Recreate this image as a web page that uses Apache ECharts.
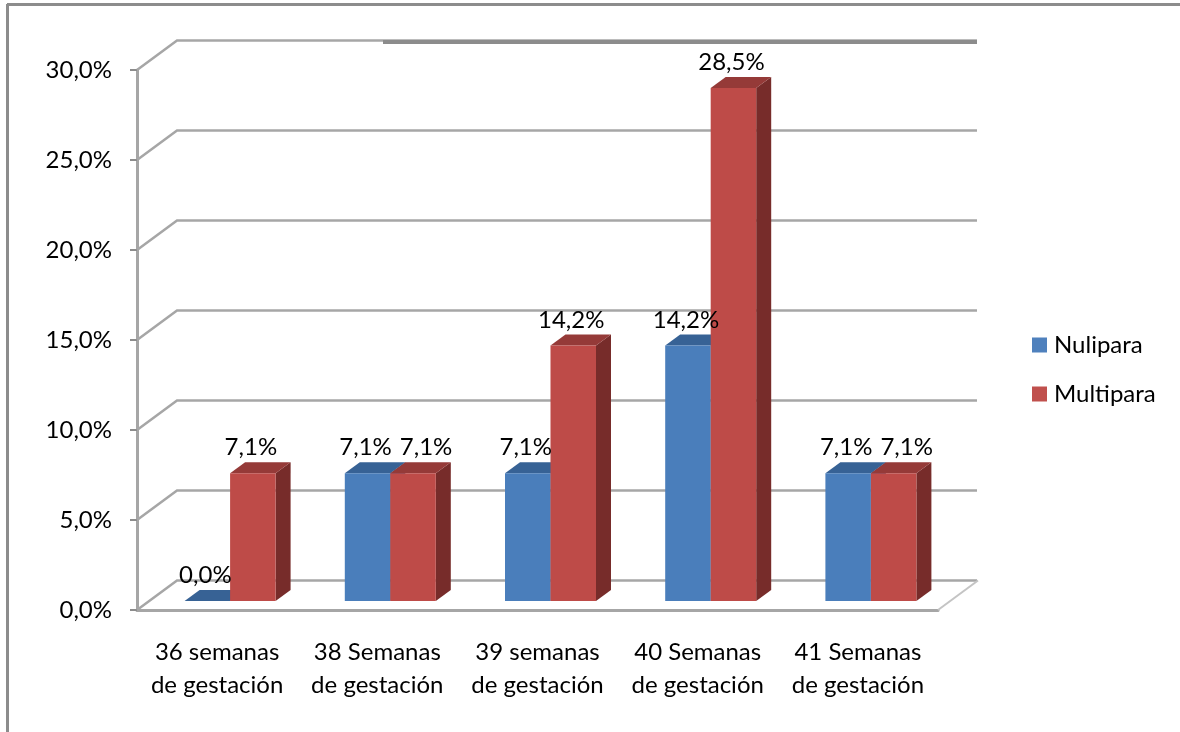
<!DOCTYPE html>
<html>
<head>
<meta charset="utf-8">
<title>Semanas de gestación</title>
<script src="https://cdn.jsdelivr.net/npm/echarts@6/dist/echarts.min.js"></script>
<style>
html, body { margin: 0; padding: 0; background: #fff; }
#main { width: 1180px; height: 732px; }
</style>
</head>
<body>
<div id="main"></div>
<script>
var categories = ['36 semanas\nde gestación', '38 Semanas\nde gestación', '39 semanas\nde gestación', '40 Semanas\nde gestación', '41 Semanas\nde gestación'];
var nulipara = [0.0, 7.1, 7.1, 14.2, 7.1];
var multipara = [7.1, 7.1, 14.2, 28.5, 7.1];
var yTicks = [0, 5, 10, 15, 20, 25, 30];

var FONT = 'Lato';
var FONT_SIZE = 24;
var GRID_COLOR = '#a6a6a6';
var AXIS_COLOR = '#8c8c8c';
// 3d look: wall offset, bar offset from the front axis, bar depth
var WALL_DX = 40, WALL_DY = -29.5;
var BAR_DX = 13, BAR_DY = -9;
var DEPTH_DX = 15, DEPTH_DY = -11;
var BAR_W = 45.5;

function fmt(v) {
    return v.toFixed(1).replace('.', ',') + '%';
}

function poly(points, fill) {
    return { type: 'polygon', shape: { points: points }, style: { fill: fill } };
}

function renderWall(params, api) {
    var v = api.value(1);
    var y = api.coord([0, v])[1];
    var left = params.coordSys.x;
    var right = left + params.coordSys.width;
    var children = [{
        type: 'polyline',
        shape: { points: [[left, y], [left + WALL_DX, y + WALL_DY], [right + WALL_DX - 1, y + WALL_DY]] },
        style: { fill: null, stroke: GRID_COLOR, lineWidth: 2.5 }
    }];
    if (v === 0) {
        children.push({
            type: 'line',
            shape: { x1: right, y1: y, x2: right + WALL_DX, y2: y + WALL_DY },
            style: { stroke: '#c4c4c4', lineWidth: 2 }
        });
    }
    if (v === 30) {
        // the top line is heavier from here on in the original picture
        children.push({
            type: 'line',
            shape: { x1: left + 246, y1: y + WALL_DY + 1.5, x2: right + WALL_DX - 1, y2: y + WALL_DY + 1.5 },
            style: { stroke: AXIS_COLOR, lineWidth: 4 }
        });
    }
    return { type: 'group', children: children };
}

function barRenderer(side, front, top, dark) {
    return function (params, api) {
        var i = api.value(0);
        var v = api.value(1);
        var base = api.coord([i, 0]);
        var tip = api.coord([i, v]);
        var cx = base[0] + BAR_DX;
        var x0 = side === 0 ? cx - BAR_W : cx;
        var x1 = x0 + BAR_W;
        var yb = base[1] + BAR_DY;
        var yt = tip[1] + BAR_DY;
        // labels of equal neighbours are pushed apart
        var nudge = side === 1 && nulipara[i] === multipara[i] ? 13 : -2;
        return {
            type: 'group',
            children: [
                poly([[x1, yb], [x1 + DEPTH_DX, yb + DEPTH_DY], [x1 + DEPTH_DX, yt + DEPTH_DY], [x1, yt]], dark),
                poly([[x0, yt], [x1, yt], [x1 + DEPTH_DX, yt + DEPTH_DY], [x0 + DEPTH_DX, yt + DEPTH_DY]], top),
                { type: 'rect', shape: { x: x0, y: yt, width: BAR_W, height: yb - yt }, style: { fill: front } },
                {
                    type: 'text',
                    z2: 100,
                    style: {
                        x: (x0 + x1) / 2 + nudge,
                        y: yt - 25.5,
                        text: fmt(v),
                        font: FONT_SIZE + 'px ' + FONT,
                        fill: '#000',
                        align: 'center',
                        verticalAlign: 'middle'
                    }
                }
            ]
        };
    };
}

function toPairs(values) {
    return values.map(function (v, i) { return [i, v]; });
}

var chartDom = document.getElementById('main');
var myChart = echarts.init(chartDom);
var option = {
    animation: false,
    backgroundColor: '#fff',
    textStyle: { fontFamily: FONT },
    grid: { left: 137, right: 242, top: 70, bottom: 122 },
    legend: {
        orient: 'vertical',
        left: 1032,
        top: 333,
        padding: 0,
        icon: 'rect',
        itemWidth: 15,
        itemHeight: 15,
        itemGap: 25,
        data: ['Nulipara', 'Multipara'],
        textStyle: { fontFamily: FONT, fontSize: FONT_SIZE, color: '#000', padding: [0, 0, 0, 2] }
    },
    xAxis: {
        type: 'category',
        data: categories,
        axisLine: { lineStyle: { color: GRID_COLOR, width: 3 } },
        axisTick: { alignWithLabel: false, length: 8, lineStyle: { color: AXIS_COLOR, width: 2 } },
        axisLabel: { color: '#000', fontFamily: FONT, fontSize: FONT_SIZE, lineHeight: 33, margin: 26, interval: 0 }
    },
    yAxis: {
        type: 'value',
        min: 0,
        max: 30,
        interval: 5,
        splitLine: { show: false },
        axisLine: { show: true, lineStyle: { color: GRID_COLOR, width: 3 } },
        axisTick: { show: true, length: 7, lineStyle: { color: AXIS_COLOR, width: 2 } },
        axisLabel: {
            color: '#000',
            fontFamily: FONT,
            fontSize: FONT_SIZE,
            margin: 25,
            formatter: function (v) { return fmt(v); }
        }
    },
    graphic: [
        { type: 'line', z: -1, shape: { x1: 7, y1: 4.5, x2: 1180, y2: 4.5 }, style: { stroke: AXIS_COLOR, lineWidth: 3 } },
        { type: 'line', z: -1, shape: { x1: 7.5, y1: 4, x2: 7.5, y2: 732 }, style: { stroke: AXIS_COLOR, lineWidth: 3 } }
    ],
    series: [
        {
            name: 'pared',
            type: 'custom',
            z: 1,
            silent: true,
            clip: false,
            renderItem: renderWall,
            encode: { x: 0, y: 1 },
            data: yTicks.map(function (v) { return [0, v]; })
        },
        {
            name: 'Nulipara',
            type: 'custom',
            z: 3,
            clip: false,
            itemStyle: { color: '#4f81bd' },
            renderItem: barRenderer(0, '#4a7ebb', '#376295', '#2f5682'),
            encode: { x: 0, y: 1 },
            data: toPairs(nulipara)
        },
        {
            name: 'Multipara',
            type: 'custom',
            z: 3,
            clip: false,
            itemStyle: { color: '#c0504d' },
            renderItem: barRenderer(1, '#be4b48', '#953a38', '#772c2a'),
            encode: { x: 0, y: 1 },
            data: toPairs(multipara)
        }
    ]
};
myChart.setOption(option);
</script>
</body>
</html>
